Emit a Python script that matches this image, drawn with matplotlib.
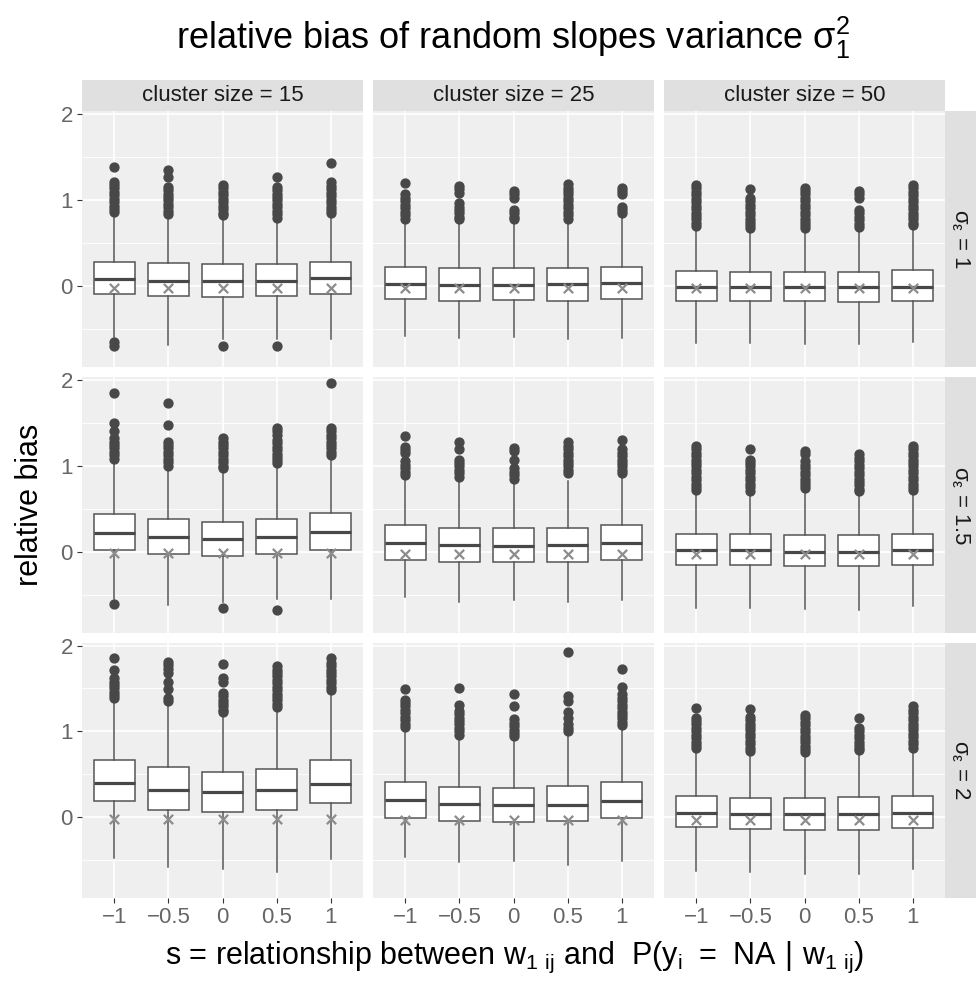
"""Facet grid of boxplots: relative bias of random slopes variance."""

import matplotlib
matplotlib.use("Agg")
import matplotlib.pyplot as plt

plt.rcParams['font.family'] = ['Liberation Sans', 'DejaVu Sans']

# ---------------------------------------------------------------------------
# Data
# ---------------------------------------------------------------------------

s_labels = ["\u22121", "\u22120.5", "0", "0.5", "1"]
cluster_sizes = [15, 25, 50]
sigma_eps = ["1", "1.5", "2"]

# rows = sigma_eps, columns = cluster size, 5 boxes each
med = [
    [[0.08, 0.06, 0.05, 0.06, 0.09], [0.02, 0.01, 0.01, 0.02, 0.03], [-0.01, -0.01, -0.02, -0.02, -0.01]],
    [[0.22, 0.17, 0.15, 0.17, 0.23], [0.10, 0.08, 0.07, 0.08, 0.10], [0.02, 0.02, 0.00, 0.00, 0.02]],
    [[0.40, 0.31, 0.29, 0.32, 0.39], [0.20, 0.15, 0.14, 0.14, 0.19], [0.05, 0.04, 0.03, 0.03, 0.05]],
]
q1 = [
    [[-0.10, -0.12, -0.13, -0.12, -0.10], [-0.16, -0.18, -0.17, -0.18, -0.16], [-0.18, -0.18, -0.18, -0.19, -0.18]],
    [[0.02, -0.03, -0.05, -0.03, 0.02], [-0.10, -0.12, -0.12, -0.12, -0.10], [-0.15, -0.16, -0.17, -0.17, -0.15]],
    [[0.19, 0.08, 0.06, 0.08, 0.16], [-0.01, -0.05, -0.06, -0.05, -0.01], [-0.12, -0.14, -0.15, -0.15, -0.13]],
]
q3 = [
    [[0.27, 0.26, 0.25, 0.25, 0.28], [0.22, 0.21, 0.21, 0.21, 0.22], [0.17, 0.16, 0.16, 0.16, 0.18]],
    [[0.44, 0.38, 0.35, 0.38, 0.45], [0.31, 0.27, 0.27, 0.27, 0.31], [0.21, 0.20, 0.19, 0.19, 0.21]],
    [[0.67, 0.58, 0.52, 0.56, 0.66], [0.41, 0.35, 0.34, 0.36, 0.41], [0.25, 0.22, 0.22, 0.23, 0.25]],
]
whis_hi = [
    [[0.81, 0.80, 0.76, 0.74, 0.81], [0.75, 0.75, 0.75, 0.75, 0.82], [0.65, 0.65, 0.65, 0.65, 0.69]],
    [[1.05, 0.97, 0.94, 1.01, 1.11], [0.86, 0.82, 0.80, 0.82, 0.86], [0.70, 0.68, 0.72, 0.68, 0.70]],
    [[1.35, 1.31, 1.18, 1.25, 1.42], [1.02, 0.93, 0.91, 0.95, 1.02], [0.79, 0.75, 0.75, 0.77, 0.79]],
]
whis_lo = [
    [[-0.60, -0.69, -0.62, -0.62, -0.62], [-0.58, -0.61, -0.60, -0.62, -0.61], [-0.67, -0.67, -0.68, -0.68, -0.66]],
    [[-0.55, -0.62, -0.58, -0.55, -0.55], [-0.53, -0.58, -0.56, -0.58, -0.56], [-0.65, -0.66, -0.67, -0.68, -0.63]],
    [[-0.48, -0.58, -0.61, -0.64, -0.49], [-0.47, -0.52, -0.51, -0.56, -0.51], [-0.63, -0.64, -0.66, -0.67, -0.61]],
]
out_hi = [
    [
        [[1.38, 1.21, 1.17, 1.13, 1.09, 1.05, 1.01, 0.97, 0.93, 0.89, 0.86],
         [1.34, 1.26, 1.15, 1.11, 1.07, 1.03, 0.99, 0.95, 0.91, 0.87, 0.83],
         [1.17, 1.13, 1.09, 1.05, 1.01, 0.97, 0.93, 0.89, 0.85, 0.82],
         [1.26, 1.15, 1.11, 1.07, 1.03, 0.99, 0.95, 0.91, 0.87, 0.83, 0.79],
         [1.43, 1.20, 1.16, 1.12, 1.08, 1.04, 1.00, 0.96, 0.92, 0.88, 0.84]],
        [[1.19, 1.06, 1.02, 0.98, 0.94, 0.90, 0.86, 0.82, 0.78],
         [1.16, 1.12, 1.08, 0.96, 0.92, 0.88, 0.84, 0.80, 0.77],
         [1.10, 1.06, 1.02, 0.88, 0.84, 0.80, 0.77],
         [1.18, 1.14, 1.10, 1.06, 1.02, 0.98, 0.94, 0.90, 0.86, 0.82, 0.78],
         [1.14, 1.10, 1.06, 0.92, 0.88, 0.85]],
        [[1.17, 1.13, 1.09, 1.05, 1.01, 0.97, 0.93, 0.89, 0.85, 0.81, 0.77, 0.73, 0.69],
         [1.12, 1.02, 0.98, 0.94, 0.90, 0.86, 0.82, 0.78, 0.74, 0.70, 0.67],
         [1.14, 1.10, 1.06, 1.02, 0.98, 0.94, 0.90, 0.86, 0.82, 0.78, 0.74, 0.70, 0.67],
         [1.10, 1.06, 1.02, 0.88, 0.84, 0.80, 0.76, 0.72, 0.68],
         [1.17, 1.13, 1.09, 1.05, 1.01, 0.97, 0.93, 0.89, 0.85, 0.81, 0.77, 0.73, 0.71]],
    ],
    [
        [[1.84, 1.50, 1.40, 1.32, 1.28, 1.24, 1.20, 1.16, 1.12, 1.08],
         [1.73, 1.47, 1.28, 1.24, 1.20, 1.16, 1.12, 1.08, 1.04, 1.00],
         [1.32, 1.28, 1.24, 1.20, 1.16, 1.12, 1.08, 1.04, 1.00, 0.97],
         [1.44, 1.40, 1.36, 1.30, 1.26, 1.22, 1.18, 1.14, 1.10, 1.06, 1.03],
         [1.96, 1.44, 1.40, 1.36, 1.32, 1.28, 1.24, 1.20, 1.16, 1.12]],
        [[1.34, 1.22, 1.18, 1.15, 1.05, 1.01, 0.97, 0.93, 0.89],
         [1.28, 1.19, 1.07, 1.03, 0.99, 0.95, 0.91, 0.87],
         [1.21, 1.17, 1.07, 0.97, 0.93, 0.89, 0.85],
         [1.27, 1.23, 1.19, 1.15, 1.11, 1.07, 1.03, 0.99, 0.95, 0.92],
         [1.30, 1.19, 1.15, 1.11, 1.07, 1.03, 0.99, 0.95, 0.91]],
        [[1.23, 1.19, 1.15, 1.11, 1.07, 1.03, 0.99, 0.95, 0.91, 0.87, 0.83, 0.79, 0.75, 0.72],
         [1.19, 1.07, 1.03, 0.99, 0.95, 0.91, 0.87, 0.83, 0.79, 0.75, 0.71],
         [1.17, 1.13, 1.05, 1.01, 0.97, 0.93, 0.89, 0.85, 0.81, 0.77, 0.74],
         [1.13, 1.09, 1.05, 1.01, 0.97, 0.93, 0.89, 0.85, 0.81, 0.77, 0.73, 0.70],
         [1.23, 1.19, 1.15, 1.11, 1.07, 1.03, 0.99, 0.95, 0.91, 0.87, 0.83, 0.79, 0.75, 0.72]],
    ],
    [
        [[1.85, 1.72, 1.62, 1.58, 1.54, 1.50, 1.46, 1.42, 1.39],
         [1.81, 1.77, 1.73, 1.68, 1.58, 1.49, 1.39, 1.35],
         [1.78, 1.62, 1.58, 1.45, 1.41, 1.37, 1.33, 1.29, 1.25, 1.22],
         [1.76, 1.72, 1.68, 1.64, 1.60, 1.56, 1.52, 1.48, 1.44, 1.40, 1.36, 1.32, 1.28],
         [1.86, 1.80, 1.76, 1.72, 1.68, 1.64, 1.60, 1.56, 1.52, 1.48]],
        [[1.49, 1.37, 1.33, 1.29, 1.25, 1.21, 1.17, 1.13, 1.09, 1.05],
         [1.51, 1.31, 1.24, 1.20, 1.16, 1.12, 1.08, 1.04, 1.00, 0.96],
         [1.43, 1.29, 1.14, 1.10, 1.06, 1.02, 0.98, 0.95],
         [1.92, 1.41, 1.35, 1.22, 1.16, 1.08, 1.04, 1.00],
         [1.73, 1.52, 1.43, 1.39, 1.35, 1.31, 1.27, 1.23, 1.19, 1.15, 1.11, 1.07]],
        [[1.27, 1.16, 1.12, 1.08, 1.04, 1.00, 0.96, 0.92, 0.88, 0.84, 0.80],
         [1.26, 1.17, 1.13, 1.09, 1.05, 1.01, 0.97, 0.93, 0.89, 0.85, 0.81, 0.77],
         [1.19, 1.15, 1.11, 1.07, 1.03, 0.99, 0.95, 0.91, 0.87, 0.83, 0.79, 0.76],
         [1.15, 1.04, 1.00, 0.96, 0.92, 0.88, 0.84, 0.80, 0.78],
         [1.29, 1.25, 1.21, 1.17, 1.13, 1.09, 1.05, 1.01, 0.97, 0.93, 0.89, 0.85, 0.81]],
    ],
]
out_lo = [
    [[[-0.65, -0.70], [], [-0.70], [-0.70], []], [[]] * 5, [[]] * 5],
    [[[-0.61], [], [-0.66], [-0.68], []], [[]] * 5, [[]] * 5],
    [[[]] * 5, [[]] * 5, [[]] * 5],
]
# grey cross drawn on every box (same within a panel)
cross = [
    [-0.03, -0.03, -0.03],
    [-0.02, -0.03, -0.03],
    [-0.02, -0.03, -0.03],
]

# ---------------------------------------------------------------------------
# Layout (pixels of the 976 x 986 output)
# ---------------------------------------------------------------------------

W, H = 976, 986
col_px = [(82, 363), (373, 654), (664, 945)]
row_px = [(111, 367), (377, 633), (643, 898)]
strip_top = 80
strip_right = 976


def rect(l, t, r, b):
    return [l / W, 1 - b / H, (r - l) / W, (b - t) / H]


fig = plt.figure(figsize=(W / 100, H / 100), dpi=100)

panel_bg = '#EFEFEF'
strip_bg = '#E0E0E0'
box_col = '#555555'
pos = [1, 2, 3, 4, 5]

for i, (t, b) in enumerate(row_px):
    for j, (l, r) in enumerate(col_px):
        ax = fig.add_axes(rect(l, t, r, b))
        ax.set_facecolor(panel_bg)
        for sp in ax.spines.values():
            sp.set_visible(False)

        stats = []
        for k in range(5):
            stats.append(dict(med=med[i][j][k], q1=q1[i][j][k], q3=q3[i][j][k],
                              whislo=whis_lo[i][j][k], whishi=whis_hi[i][j][k],
                              fliers=out_hi[i][j][k] + out_lo[i][j][k]))
        ax.bxp(stats, positions=pos, widths=0.75, patch_artist=True,
               showcaps=False, manage_ticks=False,
               boxprops=dict(facecolor='white', edgecolor=box_col, linewidth=1.1),
               medianprops=dict(color='#484848', linewidth=2.3),
               whiskerprops=dict(color=box_col, linewidth=1.1),
               flierprops=dict(marker='o', markerfacecolor='#484848',
                               markeredgecolor='#484848', markersize=6.4))
        ax.scatter(pos, [cross[i][j]] * 5, marker='x', s=45, color='#8C8C8C',
                   linewidths=1.6, zorder=5)

        ax.set_xlim(0.4, 5.6)
        ax.set_ylim(-0.945, 2.03)
        ax.set_xticks(pos)
        ax.set_yticks([0, 1, 2])
        ax.set_yticks([-0.5, 0.5, 1.5], minor=True)
        ax.grid(True, which='major', color='white', linewidth=1.2)
        ax.grid(True, which='minor', axis='y', color='white', linewidth=0.6)
        ax.set_axisbelow(True)
        ax.tick_params(which='minor', length=0)
        ax.tick_params(which='major', length=3.5, color='#333333', width=0.8,
                       labelsize=16, labelcolor='#666666', pad=3)
        if j == 0:
            ax.set_yticklabels(['0', '1', '2'])
        else:
            ax.tick_params(axis='y', length=0, labelleft=False)
        if i == 2:
            ax.set_xticklabels(s_labels)
        else:
            ax.tick_params(axis='x', length=0, labelbottom=False)

        # column strips
        if i == 0:
            sax = fig.add_axes(rect(l, strip_top, r, t))
            sax.set_facecolor(strip_bg)
            sax.set_xticks([])
            sax.set_yticks([])
            for sp in sax.spines.values():
                sp.set_visible(False)
            sax.text(0.5, 0.5, f"cluster size = {cluster_sizes[j]}",
                     ha='center', va='center', fontsize=16, color='#1A1A1A')
        # row strips
        if j == 2:
            sax = fig.add_axes(rect(r, t, strip_right, b))
            sax.set_facecolor(strip_bg)
            sax.set_xticks([])
            sax.set_yticks([])
            for sp in sax.spines.values():
                sp.set_visible(False)
            sax.text(0.5, 0.5, r"$\mathregular{σ_ε}$ = " + sigma_eps[i],
                     ha='center', va='center', rotation=-90, fontsize=16,
                     color='#1A1A1A')

fig.text(513 / W, 1 - 38 / H,
         r"relative bias of random slopes variance $\mathregular{σ_1^2}$",
         ha='center', va='center', fontsize=26, color='black')
fig.text(30 / W, 1 - 505 / H, "relative bias", rotation=90,
         ha='center', va='center', fontsize=22, color='black')
fig.text(515 / W, 1 - 957 / H,
         r"s = relationship between $\mathregular{w_{1\ ij}}$ and  "
         r"$\mathregular{P(y_i\ =\ NA\ |\ w_{1\ ij})}$",
         ha='center', va='center', fontsize=22, color='black')

fig.savefig('out.png', dpi=100)
